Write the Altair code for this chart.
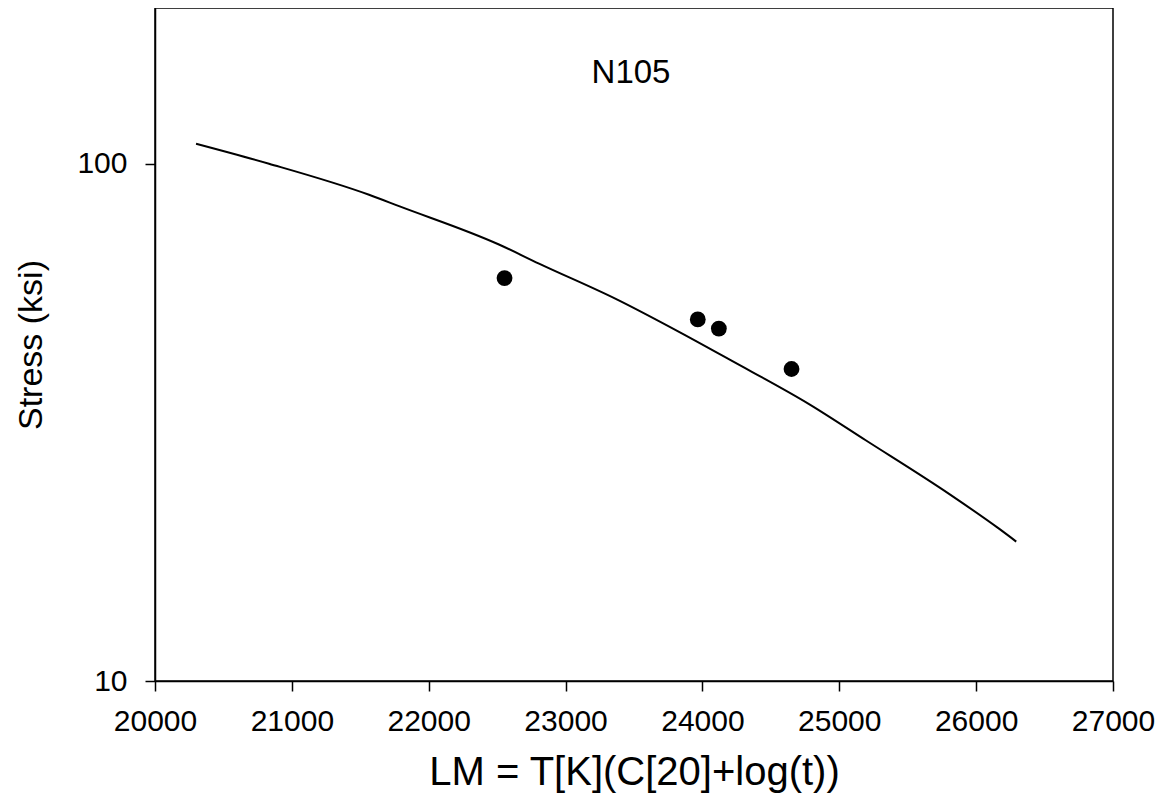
import altair as alt
import pandas as pd

# Measured data points
pt_lm = [22554, 23966, 24120, 24651]
pt_stress = [60.1, 50.0, 48.0, 40.1]

# Fitted curve
curve_lm = [20300, 20833, 21564, 21783, 22513, 22806, 23378, 23829, 24206,
            24779, 25193, 25802, 26167, 26293]
curve_stress = [109.3, 100.0, 87.1, 82.8, 69.8, 64.1, 54.6, 47.3, 41.7,
                34.3, 29.2, 23.0, 19.7, 18.6]

x_ticks = [20000, 21000, 22000, 23000, 24000, 25000, 26000, 27000]
y_ticks = [10, 100]

FONT = "Liberation Sans"

pts = pd.DataFrame({"lm": pt_lm, "stress": pt_stress})
crv = pd.DataFrame({"lm": curve_lm, "stress": curve_stress})

xscale = alt.Scale(domain=[20000, 27000], nice=False, zero=False)
yscale = alt.Scale(type="log", domain=[10, 200], nice=False)

xaxis = alt.Axis(values=x_ticks, format="d", title="LM = T[K](C[20]+log(t))",
                 grid=False, tickSize=10, tickColor="black", domainColor="black",
                 labelFlush=False, labelOverlap=False,
                 labelFont=FONT, labelFontSize=30, labelColor="black", labelPadding=15,
                 titleFont=FONT, titleFontSize=40, titleFontWeight="normal",
                 titleColor="black", titlePadding=16)
yaxis = alt.Axis(values=y_ticks, format="d", title="Stress (ksi)",
                 grid=False, tickSize=10, tickColor="black", domainColor="black",
                 labelFlush=False, labelOverlap=False,
                 labelFont=FONT, labelFontSize=30, labelColor="black", labelPadding=18,
                 titleFont=FONT, titleFontSize=34, titleFontWeight="normal",
                 titleColor="black", titlePadding=28)

line = alt.Chart(crv).mark_line(color="black", strokeWidth=2, interpolate="monotone").encode(
    x=alt.X("lm:Q", scale=xscale, axis=xaxis),
    y=alt.Y("stress:Q", scale=yscale, axis=yaxis),
)
dots = alt.Chart(pts).mark_circle(color="black", opacity=1, size=250).encode(
    x=alt.X("lm:Q", scale=xscale),
    y=alt.Y("stress:Q", scale=yscale),
)
label = alt.Chart(pd.DataFrame({"t": ["N105"]})).mark_text(
    font=FONT, fontSize=33, color="black", baseline="middle", align="center"
).encode(text="t:N", x=alt.value(476), y=alt.value(65))

chart = (line + dots + label).properties(
    width=958, height=673,
    autosize=alt.AutoSizeParams(type="none"),
    padding={"left": 147, "top": 0, "right": 42, "bottom": 123},
).configure_view(stroke="black", strokeWidth=1.5).configure_axis(domainWidth=1.5, tickWidth=1.5)

chart.save("out.html", embed_options={"renderer": "svg", "actions": False})
